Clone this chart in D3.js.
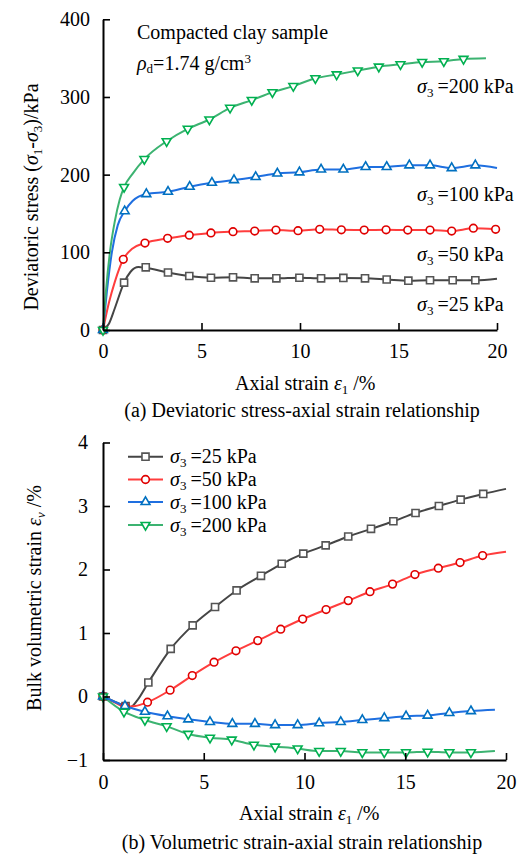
<!DOCTYPE html>
<html><head><meta charset="utf-8">
<script src="https://cdn.jsdelivr.net/npm/d3@7"></script>
<style>body{margin:0;background:#fff}svg{display:block}text{font-family:"Liberation Serif","Times New Roman",serif;fill:#000}</style>
</head><body><svg id="c" width="519" height="857"></svg>
<script>
// ---------- data ----------
const strainTicks = [0, 5, 10, 15, 20];
const stressTicks = [0, 100, 200, 300, 400];
const volTicks = [-1, 0, 1, 2, 3, 4];
const seriesNames = ["25", "50", "100", "200"];

// (a) deviatoric stress: line points [strain %, kPa]
const stressLine25 = [[0,0],[0.3,8],[0.6,28],[1.07,61],[1.4,75],[1.8,81],[2.17,80],[3.3,74],[4.38,69.5],[5.48,67.3],[6.6,67.8],[7.7,66.5],[8.8,66.5],[9.97,67.3],[11.07,66.5],[12.2,67],[13.3,66.5],[14.4,65],[15.5,63.5],[16.6,64],[17.75,64],[18.9,64],[20,66]];
const stressLine50 = [[0,0],[0.3,35],[0.6,62],[1.03,91],[1.5,105],[2.13,112],[3.28,118],[4.38,122],[5.48,125],[6.6,126.5],[7.7,127.4],[8.78,128.7],[9.9,127.8],[11,129.6],[12.1,129],[13.26,128.7],[14.37,129],[15.47,128.7],[16.6,128.7],[17.7,127.4],[18.8,131],[19.93,129.6]];
const stressLine100 = [[0,0],[0.2,50],[0.45,100],[0.75,135],[1.1,153],[1.5,166],[2.2,175],[3.3,178],[4.4,184.5],[5.53,189.6],[6.65,193],[7.75,197],[8.85,201.5],[9.97,203],[11.07,206.7],[12.2,206.7],[13.33,210],[14.4,210],[15.55,212],[16.6,212],[17.7,208.5],[18.9,212],[20,208.5]];
const stressLine200 = [[0,0],[0.15,50],[0.35,100],[0.6,140],[0.85,168],[1.07,184],[1.5,201],[2.1,220],[3.23,243],[4.3,259],[5.4,271],[6.45,286],[7.55,296],[8.6,306],[9.66,314],[10.78,324],[11.86,329],[12.93,334],[14.0,339],[15.1,342],[16.2,345],[17.3,346],[18.3,349],[19.44,350]];

// (a) marker points
const stressMark25 = [[0,0],[1.07,61],[2.17,80.7],[3.3,74],[4.38,69.5],[5.48,67.3],[6.6,67.8],[7.7,66.5],[8.8,66.5],[9.97,67.3],[11.07,66.5],[12.2,67],[13.3,66.5],[14.4,65],[15.5,63.5],[16.6,64],[17.75,64],[18.9,64]];
const stressMark50 = [[0,0],[1.03,91],[2.13,112],[3.28,118],[4.38,122],[5.48,125],[6.6,126.5],[7.7,127.4],[8.78,128.7],[9.9,127.8],[11,129.6],[12.1,129],[13.26,128.7],[14.37,129],[15.47,128.7],[16.6,128.7],[17.7,127.4],[18.8,131],[19.93,129.6]];
const stressMark100 = [[0,0],[1.1,153],[2.2,175],[3.3,178],[4.4,184.5],[5.53,189.6],[6.65,193],[7.75,197],[8.85,201.5],[9.97,203],[11.07,206.7],[12.2,206.7],[13.33,210],[14.4,210],[15.55,212],[16.6,212],[17.7,208.5],[18.9,212]];
const stressMark200 = [[0,0],[1.07,184],[2.1,220],[3.23,243],[4.3,259],[5.4,271],[6.45,286],[7.55,296],[8.6,306],[9.66,314],[10.78,324],[11.86,329],[12.93,334],[14.0,339],[15.1,342],[16.2,345],[17.3,346],[18.3,349]];

// (b) volumetric strain: line points [axial %, volumetric %]
const volLine25 = [[0,0],[0.5,-0.07],[1.0,-0.14],[1.34,-0.17],[1.7,-0.06],[2.25,0.22],[3.36,0.75],[4.45,1.12],[5.56,1.41],[6.63,1.67],[7.84,1.9],[8.87,2.09],[9.94,2.25],[11.05,2.38],[12.17,2.52],[13.3,2.64],[14.41,2.76],[15.51,2.89],[16.67,3.0],[17.75,3.1],[18.87,3.19],[20,3.27]];
const volLine50 = [[0,0],[0.5,-0.08],[1.09,-0.16],[1.6,-0.15],[2.21,-0.09],[3.33,0.1],[4.43,0.33],[5.51,0.54],[6.6,0.72],[7.68,0.88],[8.82,1.06],[9.91,1.22],[11.07,1.37],[12.17,1.51],[13.25,1.65],[14.37,1.77],[15.48,1.92],[16.64,2.02],[17.72,2.11],[18.84,2.22],[20,2.28]];
const volLine100 = [[0,0],[1.09,-0.15],[2.08,-0.24],[3.2,-0.31],[4.23,-0.36],[5.31,-0.4],[6.42,-0.43],[7.54,-0.43],[8.54,-0.45],[9.66,-0.45],[10.73,-0.42],[11.8,-0.4],[12.87,-0.37],[13.96,-0.34],[15.04,-0.31],[16.11,-0.3],[17.19,-0.26],[18.26,-0.23],[19.45,-0.21]];
const volLine200 = [[0,0],[1.04,-0.24],[2.08,-0.37],[3.16,-0.47],[4.23,-0.59],[5.31,-0.65],[6.39,-0.68],[7.49,-0.76],[8.54,-0.79],[9.66,-0.82],[10.73,-0.86],[11.8,-0.86],[12.87,-0.88],[13.96,-0.88],[15.04,-0.88],[16.11,-0.87],[17.19,-0.88],[18.26,-0.88],[19.45,-0.86]];

const volMark25 = [[0,0],[1.12,-0.15],[2.25,0.22],[3.36,0.75],[4.45,1.12],[5.56,1.41],[6.63,1.67],[7.84,1.9],[8.87,2.09],[9.94,2.25],[11.05,2.38],[12.17,2.52],[13.3,2.64],[14.41,2.76],[15.51,2.89],[16.67,3.0],[17.75,3.1],[18.87,3.19]];
const volMark50 = [[0,0],[1.09,-0.16],[2.21,-0.09],[3.33,0.1],[4.43,0.33],[5.51,0.54],[6.6,0.72],[7.68,0.88],[8.82,1.06],[9.91,1.22],[11.07,1.37],[12.17,1.51],[13.25,1.65],[14.37,1.77],[15.48,1.92],[16.64,2.02],[17.72,2.11],[18.84,2.22]];
const volMark100 = [[0,0],[1.09,-0.15],[2.08,-0.24],[3.2,-0.31],[4.23,-0.36],[5.31,-0.4],[6.42,-0.43],[7.54,-0.43],[8.54,-0.45],[9.66,-0.45],[10.73,-0.42],[11.8,-0.4],[12.87,-0.37],[13.96,-0.34],[15.04,-0.31],[16.11,-0.3],[17.19,-0.26],[18.26,-0.23]];
const volMark200 = [[0,0],[1.04,-0.24],[2.08,-0.37],[3.16,-0.47],[4.23,-0.59],[5.31,-0.65],[6.39,-0.68],[7.49,-0.76],[8.54,-0.79],[9.66,-0.82],[10.73,-0.86],[11.8,-0.86],[12.87,-0.88],[13.96,-0.88],[15.04,-0.88],[16.11,-0.87],[17.19,-0.88],[18.26,-0.88]];

// ---------- styles ----------
const lineColors = ["#454545", "#ff3d3d", "#1f6fe0", "#3cb371"];
const markColors = ["#555555", "#e00000", "#0070c0", "#00b050"];
const symbols = [d3.symbolSquare, d3.symbolCircle, d3.symbolTriangle, d3.symbolTriangle];
const symSizes = [50, 46, 34, 34];
const symRot = [0, 0, 0, 180];
const FS = 20;
const SUB = 13;

const svg = d3.select("#c");
svg.append("rect").attr("width",519).attr("height",857).attr("fill","#fff");

function sigmaLabel(sel, sub, rest) {
  sel.append("tspan").attr("font-style","italic").text("σ");
  sel.append("tspan").attr("font-size",SUB).attr("dy",4).text(sub);
  sel.append("tspan").attr("dy",-4).text("\u2009" + rest);
}

function drawSeries(g, x, y, lines, marks) {
  const line = d3.line().x(d => x(d[0])).y(d => y(d[1])).curve(d3.curveMonotoneX);
  lines.forEach((pts, i) => {
    g.append("path").attr("d", line(pts)).attr("fill","none")
      .attr("stroke", lineColors[i]).attr("stroke-width", 2);
  });
  marks.forEach((pts, i) => {
    const sym = d3.symbol().type(symbols[i]).size(symSizes[i]);
    g.selectAll(null).data(pts).enter().append("path")
      .attr("d", sym)
      .attr("transform", d => `translate(${x(d[0])},${y(d[1])}) rotate(${symRot[i]})`)
      .attr("fill","#fff").attr("stroke", markColors[i]).attr("stroke-width", 1.6);
  });
}

function styleAxis(g) {
  g.select(".domain").attr("stroke","#000").attr("stroke-width",2);
  g.selectAll(".tick line").attr("stroke","#000").attr("stroke-width",1.6);
  g.selectAll(".tick text").attr("font-size",FS).attr("font-family",'"Liberation Serif",serif').attr("fill","#000");
}

// ---------- (a) ----------
const xA = d3.scaleLinear().domain([0,20]).range([103,497]);
const yA = d3.scaleLinear().domain([0,400]).range([330,19.3]);

const gA = svg.append("g");
drawSeries(gA, xA, yA, [stressLine25, stressLine50, stressLine100, stressLine200],
  [stressMark25, stressMark50, stressMark100, stressMark200]);

const axAy = svg.append("g").attr("transform","translate(103,0)")
  .call(d3.axisLeft(yA).tickValues(stressTicks).tickFormat(d3.format("d")).tickSizeInner(-7).tickSizeOuter(0).tickPadding(13));
styleAxis(axAy);
const axAx = svg.append("g").attr("transform","translate(0,330)")
  .call(d3.axisBottom(xA).tickValues(strainTicks).tickFormat(d3.format("d")).tickSizeInner(-7).tickSizeOuter(0).tickPadding(14));
styleAxis(axAx);

// annotation
svg.append("text").attr("x",137).attr("y",39).attr("font-size",FS).text("Compacted clay sample");
const rho = svg.append("text").attr("x",137).attr("y",70).attr("font-size",FS);
rho.append("tspan").attr("font-style","italic").text("ρ");
rho.append("tspan").attr("font-size",SUB).attr("dy",3).text("d");
rho.append("tspan").attr("dy",-3).text("=1.74 g/cm");
rho.append("tspan").attr("font-size",SUB).attr("dy",-7).text("3");

const serLabY = [311, 261, 201, 93];
seriesNames.forEach((n, i) => {
  const t = svg.append("text").attr("x",417).attr("y",serLabY[i]).attr("font-size",FS);
  sigmaLabel(t, "3", "=" + n + " kPa");
});

// axis titles (a)
const ytA = svg.append("text").attr("transform","translate(38,197) rotate(-90)")
  .attr("text-anchor","middle").attr("font-size",FS);
ytA.append("tspan").text("Deviatoric stress (");
ytA.append("tspan").attr("font-style","italic").text("σ");
ytA.append("tspan").attr("font-size",SUB).attr("dy",4).text("1");
ytA.append("tspan").attr("dy",-4).text("-");
ytA.append("tspan").attr("font-style","italic").text("σ");
ytA.append("tspan").attr("font-size",SUB).attr("dy",4).text("3");
ytA.append("tspan").attr("dy",-4).text(")/kPa");

function axialTitle(x, y) {
  const t = svg.append("text").attr("x",x).attr("y",y).attr("font-size",FS);
  t.append("tspan").text("Axial strain ");
  t.append("tspan").attr("font-style","italic").text("ε");
  t.append("tspan").attr("font-size",SUB).attr("dy",4).text("1");
  t.append("tspan").attr("dy",-4).text(" /%");
}
axialTitle(235, 390);
svg.append("text").attr("x",302).attr("y",417).attr("text-anchor","middle").attr("font-size",FS)
  .text("(a) Deviatoric stress-axial strain relationship");

// ---------- (b) ----------
const xB = d3.scaleLinear().domain([0,20]).range([103,506]);
const yB = d3.scaleLinear().domain([-1,4]).range([760,442.5]);

const gB = svg.append("g");
drawSeries(gB, xB, yB, [volLine25, volLine50, volLine100, volLine200],
  [volMark25, volMark50, volMark100, volMark200]);

const axBy = svg.append("g").attr("transform","translate(103,0)")
  .call(d3.axisLeft(yB).tickValues(volTicks).tickFormat(d3.format("d")).tickSizeInner(-7).tickSizeOuter(0).tickPadding(15));
styleAxis(axBy);
const axBx = svg.append("g").attr("transform","translate(0,760)")
  .call(d3.axisBottom(xB).tickValues(strainTicks).tickFormat(d3.format("d")).tickSizeInner(-7).tickSizeOuter(0).tickPadding(15));
styleAxis(axBx);

// legend
const legY = [456.7, 479.5, 502, 525];
seriesNames.forEach((n, i) => {
  const g = svg.append("g");
  g.append("line").attr("x1",128).attr("x2",163).attr("y1",legY[i]).attr("y2",legY[i])
    .attr("stroke", lineColors[i]).attr("stroke-width",2);
  g.append("path").attr("d", d3.symbol().type(symbols[i]).size(symSizes[i]))
    .attr("transform",`translate(145.5,${legY[i]}) rotate(${symRot[i]})`)
    .attr("fill","#fff").attr("stroke", markColors[i]).attr("stroke-width",1.6);
  const t = g.append("text").attr("x",170).attr("y",legY[i]+6.5).attr("font-size",FS);
  sigmaLabel(t, "3", "=" + n + " kPa");
});

const ytB = svg.append("text").attr("transform","translate(41,598) rotate(-90)")
  .attr("text-anchor","middle").attr("font-size",FS);
ytB.append("tspan").text("Bulk volumetric strain ");
ytB.append("tspan").attr("font-style","italic").text("ε");
ytB.append("tspan").attr("font-size",SUB).attr("font-style","italic").attr("dy",4).text("v");
ytB.append("tspan").attr("dy",-4).text(" /%");

axialTitle(239, 820);
svg.append("text").attr("x",302).attr("y",849).attr("text-anchor","middle").attr("font-size",FS)
  .text("(b) Volumetric strain-axial strain relationship");
</script></body></html>
